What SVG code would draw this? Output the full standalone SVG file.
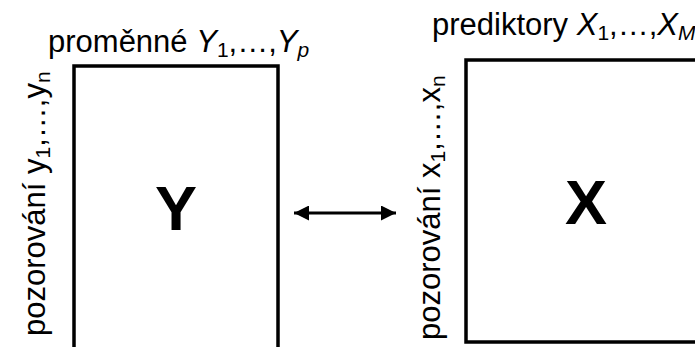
<svg xmlns="http://www.w3.org/2000/svg" width="695" height="347" viewBox="0 0 695 347">
<style>
text{font-family:"Liberation Sans",Arial,sans-serif;fill:#000}
.lbl{font-size:31px}
.sub{font-size:21px}
.it{font-style:italic}
.big{font-size:63px;font-weight:bold;text-anchor:middle}
.box{fill:#fff;stroke:#000;stroke-width:3.5}
.conn{stroke:#000;stroke-width:3;fill:none}
</style>
<defs>
<marker id="ah" viewBox="0 0 10 10" refX="10" refY="5" markerWidth="5.3" markerHeight="5" markerUnits="strokeWidth" orient="auto-start-reverse">
<path d="M0,0 L10,5 L0,10 z" fill="#000"/>
</marker>
</defs>
<g id="nodeY">
<rect class="box" x="74" y="66" width="204" height="320"/>
<text class="big" x="176" y="230">Y</text>
<text class="lbl" x="48" y="52">proměnné <tspan class="it">Y</tspan><tspan class="sub" dy="5">1</tspan><tspan dy="-5">,…,</tspan><tspan class="it">Y</tspan><tspan class="sub it" dy="5">p</tspan></text>
<text class="lbl" transform="translate(45,336) rotate(-90)">pozorování y<tspan class="sub" dy="5">1</tspan><tspan dy="-5">,…,</tspan>y<tspan class="sub" dy="5">n</tspan></text>
</g>
<g id="nodeX">
<rect class="box" x="466" y="60" width="280" height="282"/>
<text class="big" x="586" y="224">X</text>
<text class="lbl" x="432" y="35">prediktory <tspan class="it">X</tspan><tspan class="sub" dy="5">1</tspan><tspan dy="-5">,…,</tspan><tspan class="it">X</tspan><tspan class="sub it" dy="5">M</tspan></text>
<text class="lbl" transform="translate(440,340) rotate(-90)">pozorování x<tspan class="sub" dy="5">1</tspan><tspan dy="-5">,…,</tspan>x<tspan class="sub" dy="5">n</tspan></text>
</g>
<g id="connectors">
<line class="conn" x1="294" y1="213" x2="396" y2="213" marker-start="url(#ah)" marker-end="url(#ah)"/>
</g>
</svg>
